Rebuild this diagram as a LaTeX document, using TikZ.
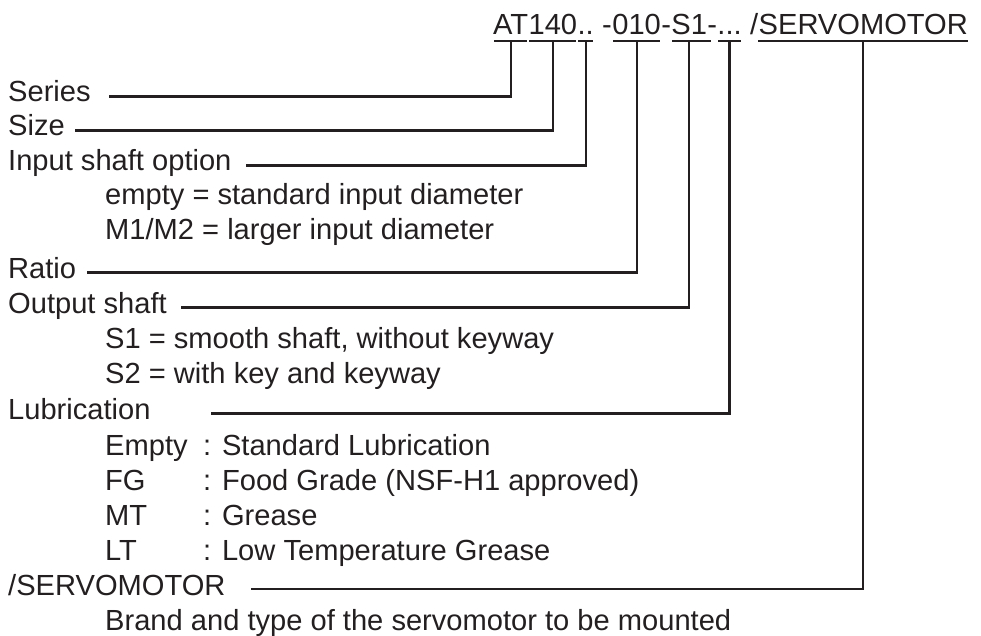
\documentclass[tikz,border=0pt]{standalone}
\usepackage{fontspec}
\setmainfont{Liberation Sans}
\usetikzlibrary{positioning}
\definecolor{ink}{HTML}{231F20}
\tikzset{
  codepart/.style = {inner sep=0pt, text depth=0pt, anchor=base west},
  keytext/.style  = {inner sep=0pt, anchor=base west},
  leader/.style   = {-, line width=2.2pt, ink},
}

\begin{document}
\begin{tikzpicture}[x=1pt, y=1pt, font=\fontsize{29.1pt}{34.5pt}\selectfont, text=ink]
    \useasboundingbox (0,0) rectangle (981,-636);

    % --- type code ----------------------------------------------------------
    \node[codepart] (cAT) at (493,-35) {AT};
    \node[codepart] (c140) at (cAT.base east) {140};
    \node[codepart] (cin) at (c140.base east) {..};
    \node[codepart] (d1) at (cin.base east) {\ -};
    \node[codepart] (cratio) at (d1.base east) {010};
    \node[codepart] (d2) at (cratio.base east) {-};
    \node[codepart] (cout) at (d2.base east) {S1};
    \node[codepart] (d3) at (cout.base east) {-};
    \node[codepart] (club) at (d3.base east) {...};
    \node[codepart] (d4) at (club.base east) {\ /};
    \node[codepart] (cmot) at (d4.base east) {SERVOMOTOR};

    % --- underlines ---------------------------------------------------------
    \draw[leader] ([shift={(1pt,-6pt)}]cAT.south west) -- ([shift={(-1pt,-6pt)}]cAT.south east);
    \draw[leader] ([shift={(1pt,-6pt)}]c140.south west) -- ([shift={(-1pt,-6pt)}]c140.south east);
    \draw[leader] ([shift={(1pt,-6pt)}]cin.south west) -- ([shift={(-1pt,-6pt)}]cin.south east);
    \draw[leader] ([shift={(1pt,-6pt)}]cratio.south west) -- ([shift={(-1pt,-6pt)}]cratio.south east);
    \draw[leader] ([shift={(1pt,-6pt)}]cout.south west) -- ([shift={(4pt,-6pt)}]cout.south east);
    \draw[leader] ([shift={(1pt,-6pt)}]club.south west) -- ([shift={(-1pt,-6pt)}]club.south east);
    \draw[leader] ([shift={(0pt,-6pt)}]cmot.south west) -- ([shift={(0pt,-6pt)}]cmot.south east);

    % --- key ----------------------------------------------------------------
    \node[keytext] (series) at (8,-102) {Series};
    \node[keytext] (size) at (8,-136) {Size};
    \node[keytext] (inshaft) at (8,-171) {Input shaft option};
    \node[keytext] (inempty) at (105,-205) {empty = standard input diameter};
    \node[keytext] (inlarge) at (105,-240) {M1/M2 = larger input diameter};
    \node[keytext] (ratio) at (8,-278) {Ratio};
    \node[keytext] (outshaft) at (8,-313) {Output shaft};
    \node[keytext] (outsmooth) at (105,-348) {S1 = smooth shaft, without keyway};
    \node[keytext] (outkey) at (105,-383) {S2 = with key and keyway};
    \node[keytext] (lub) at (8,-419) {Lubrication};
    \node[keytext] (lubstd) at (105,-455) {Empty};
    \node[keytext] (lubstdtx) at (203,-455) {: Standard Lubrication};
    \node[keytext] (lubfg) at (105,-490) {FG};
    \node[keytext] (lubfgtx) at (203,-490) {: Food Grade (NSF-H1 approved)};
    \node[keytext] (lubmt) at (105,-525) {MT};
    \node[keytext] (lubmttx) at (203,-525) {: Grease};
    \node[keytext] (lublt) at (105,-560) {LT};
    \node[keytext] (lublttx) at (203,-560) {: Low Temperature Grease};
    \node[keytext] (motor) at (8,-595) {/SERVOMOTOR};
    \node[keytext] (brand) at (105,-630) {Brand and type of the servomotor to be mounted};

    % --- leaders ------------------------------------------------------------
    \draw[leader] ([yshift=-6pt]cAT.south) |- ([shift={(18pt,5.5pt)}]series.base east);
    \draw[leader] ([yshift=-6pt]c140.south) |- ([shift={(10pt,5.5pt)}]size.base east);
    \draw[leader] ([yshift=-6pt]cin.south) |- ([shift={(14pt,5.5pt)}]inshaft.base east);
    \draw[leader] ([yshift=-6pt]cratio.south) |- ([shift={(11pt,5.5pt)}]ratio.base east);
    \draw[leader] ([yshift=-6pt]cout.south) |- ([shift={(14pt,5.5pt)}]outshaft.base east);
    \draw[leader] ([yshift=-6pt]club.south) |- ([shift={(60pt,5.5pt)}]lub.base east);
    \draw[leader] ([yshift=-6pt]cmot.south) |- ([shift={(25pt,6pt)}]motor.base east);
\end{tikzpicture}
\end{document}
